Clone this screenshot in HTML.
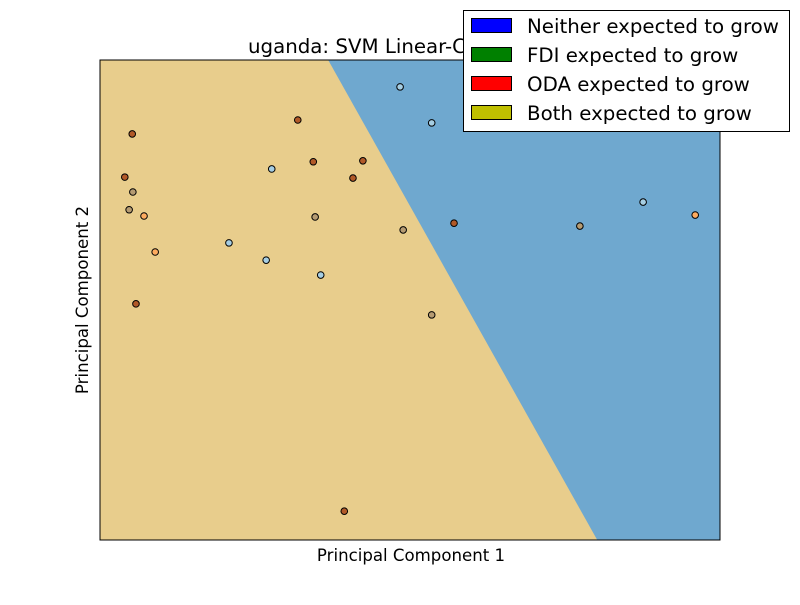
<!DOCTYPE html>
<html><head><meta charset="utf-8"><style>
body{margin:0;background:#fff;}
svg{font-family:"DejaVu Sans","Liberation Sans",sans-serif;}
</style></head><body>
<svg id="chart" width="800" height="600">
<rect width="800" height="600" fill="#fff"/>
<text x="248" y="53" font-size="19.8">uganda: SVM Linear-Classifier</text>
<g id="plot"></g>
<rect x="100" y="60" width="620" height="480" fill="none" stroke="#000" stroke-width="1"/>
<text x="411" y="561" font-size="16.6" text-anchor="middle">Principal Component 1</text>
<text x="88" y="300" font-size="16.6" text-anchor="middle" transform="rotate(-90 88 300)">Principal Component 2</text>
<g>
<rect x="463.5" y="10.5" width="326" height="121" fill="#fff" stroke="#000"/>
<g><rect x="471.5" y="18.5" width="40" height="14" fill="#0000ff" stroke="#000"/><text x="527" y="33" font-size="19.8">Neither expected to grow</text></g>
<g><rect x="471.5" y="47.5" width="40" height="14" fill="#008000" stroke="#000"/><text x="527" y="62" font-size="19.8">FDI expected to grow</text></g>
<g><rect x="471.5" y="76.5" width="40" height="14" fill="#ff0000" stroke="#000"/><text x="527" y="91" font-size="19.8">ODA expected to grow</text></g>
<g><rect x="471.5" y="105.5" width="40" height="14" fill="#bfbf00" stroke="#000"/><text x="527" y="120" font-size="19.8">Both expected to grow</text></g>
</g>
</svg>
<script>
// data space: x 0..10, y 0..10
const boundaryTop = [3.68, 10];
const boundaryBottom = [8.02, 0];
const xs = [0.52,0.40,0.53,0.47,0.71,0.89,0.58,3.19,3.44,4.24,4.08,2.77,3.47,2.08,2.68,3.56,4.89,5.35,3.94,4.84,5.35,5.71,7.74,8.76,9.60];
const ys = [8.46,7.56,7.25,6.88,6.75,6.00,4.92,8.75,7.88,7.90,7.54,7.73,6.73,6.19,5.83,5.52,6.46,4.69,0.60,9.44,8.69,6.60,6.54,7.04,6.77];
const cls = [2,2,1,1,3,3,2,2,2,2,2,0,1,0,0,0,1,1,2,0,0,2,1,0,3];
const colors = ["#a6cee3","#b59b72","#b15928","#fdab5f"];
const X = v => 100 + v * 62;
const Y = v => 540 - v * 48;
const ns = "http://www.w3.org/2000/svg";
const g = document.getElementById('plot');
const bg = document.createElementNS(ns,'rect');
bg.setAttribute('x',100);bg.setAttribute('y',60);bg.setAttribute('width',620);bg.setAttribute('height',480);bg.setAttribute('fill','#6fa8cf');


g.appendChild(bg);
const poly = document.createElementNS(ns,'polygon');
poly.setAttribute('points', `${X(0)},${Y(10)} ${X(boundaryTop[0])},${Y(boundaryTop[1])} ${X(boundaryBottom[0])},${Y(boundaryBottom[1])} ${X(0)},${Y(0)}`);
poly.setAttribute('fill','#e8cd8c');


g.appendChild(poly);
for (let i=0;i<xs.length;i++){
  const c = document.createElementNS(ns,'circle');
  c.setAttribute('cx',X(xs[i]));c.setAttribute('cy',Y(ys[i]));c.setAttribute('r',3.3);
  c.setAttribute('fill',colors[cls[i]]);c.setAttribute('stroke','#000');c.setAttribute('stroke-width',1);
  
  
  g.appendChild(c);
}
</script>
</body></html>
